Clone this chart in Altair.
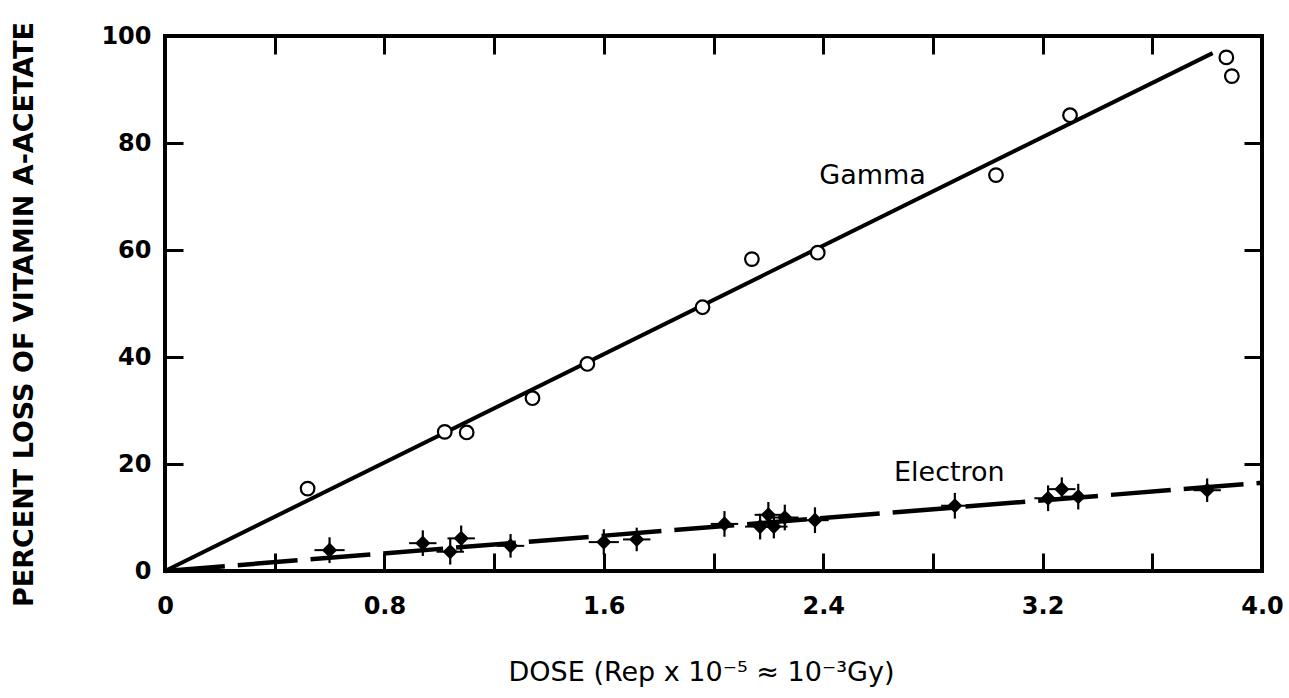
import altair as alt
import pandas as pd

# ---- data ----
gamma_x = [0.52, 1.02, 1.10, 1.34, 1.54, 1.96, 2.14, 2.38, 3.03, 3.30, 3.87, 3.89]
gamma_y = [15.4, 26.0, 25.9, 32.3, 38.7, 49.3, 58.3, 59.5, 74.0, 85.2, 96.0, 92.5]

electron_x = [0.60, 0.94, 1.04, 1.08, 1.26, 1.60, 1.72, 2.04, 2.17, 2.20, 2.22, 2.26,
              2.37, 2.88, 3.22, 3.27, 3.33, 3.80]
electron_y = [3.9, 5.2, 3.6, 6.1, 4.7, 5.4, 5.9, 8.8, 8.3, 10.5, 8.3, 10.0,
              9.5, 12.2, 13.6, 15.3, 13.9, 15.1]
electron_xerr = [0.055, 0.05, 0.05, 0.05, 0.05, 0.055, 0.05, 0.05, 0.055, 0.05, 0.05, 0.05,
                 0.05, 0.05, 0.05, 0.05, 0.055, 0.05]
electron_yerr = [2.4, 2.4, 2.4, 2.4, 2.2, 2.4, 2.2, 2.4, 2.4, 2.4, 2.2, 2.4,
                 2.4, 2.4, 2.4, 2.2, 2.4, 2.2]

gamma_fit_x = [0.0, 3.82]
gamma_fit_y = [0.0, 96.8]
electron_fit_x = [0.0, 4.0]
electron_fit_y = [0.0, 16.5]

label_text = ["Gamma", "Electron"]
label_x = [2.58, 2.86]
label_y = [73.8, 18.3]

x_domain = [0, 4.0]
y_domain = [0, 100]
x_tick_values = [0, 0.4, 0.8, 1.2, 1.6, 2.0, 2.4, 2.8, 3.2, 3.6, 4.0]
x_inner_ticks = [0.4, 0.8, 1.2, 1.6, 2.0, 2.4, 2.8, 3.2, 3.6]
y_tick_values = [0, 20, 40, 60, 80, 100]
y_inner_ticks = [20, 40, 60, 80]

x_title = "DOSE (Rep x 10\u207b\u2075 \u2248 10\u207b\u00b3Gy)"
y_title = "PERCENT LOSS OF VITAMIN A-ACETATE"

# ---- tables ----
gamma_df = pd.DataFrame({"x": gamma_x, "y": gamma_y})
electron_df = pd.DataFrame({"x": electron_x, "y": electron_y,
                            "xerr": electron_xerr, "yerr": electron_yerr})
electron_df["xlo"] = electron_df["x"] - electron_df["xerr"]
electron_df["xhi"] = electron_df["x"] + electron_df["xerr"]
electron_df["ylo"] = electron_df["y"] - electron_df["yerr"]
electron_df["yhi"] = electron_df["y"] + electron_df["yerr"]
gfit_df = pd.DataFrame({"x": gamma_fit_x, "y": gamma_fit_y})
efit_df = pd.DataFrame({"x": electron_fit_x, "y": electron_fit_y})
label_df = pd.DataFrame({"text": label_text, "x": label_x, "y": label_y})

FONT = "DejaVu Sans"
xs = alt.Scale(domain=x_domain, nice=False, zero=False)
ys = alt.Scale(domain=y_domain, nice=False, zero=False)

tick_common = dict(domain=False, grid=False, tickColor="black", tickWidth=3,
                   tickSize=18, offset=-18)

axis_bottom = alt.Axis(
    orient="bottom", values=x_tick_values,
    labelExpr="(round(datum.value*10) % 8 == 0) ? (datum.value == 0 ? '0' : format(datum.value, '.1f')) : ''",
    labelFont=FONT, labelFontSize=24, labelFontWeight="bold", labelColor="black",
    labelPadding=23, labelFlush=False, labelOverlap=False,
    titleFont=FONT, titleFontSize=27, titleFontWeight="normal", titleColor="black",
    titleX=536, titleY=127, titleBaseline="alphabetic",
    **tick_common)
axis_left = alt.Axis(
    orient="left", values=y_tick_values,
    labelFont=FONT, labelFontSize=24, labelFontWeight="bold", labelColor="black",
    labelPadding=14, labelFlush=False, labelOverlap=False,
    titleFont=FONT, titleFontSize=27, titleFontWeight="bold", titleColor="black",
    titleX=-151, titleY=278, titleAngle=270, titleBaseline="alphabetic",
    **tick_common)
axis_top = alt.Axis(orient="top", values=x_inner_ticks, labels=False, **tick_common)
axis_right = alt.Axis(orient="right", values=y_inner_ticks, labels=False, **tick_common)

gamma_line = alt.Chart(gfit_df).mark_line(color="black", strokeWidth=4).encode(
    x=alt.X("x:Q", scale=xs, axis=axis_bottom, title=x_title),
    y=alt.Y("y:Q", scale=ys, axis=axis_left, title=y_title),
)
electron_line = alt.Chart(efit_df).mark_line(
    color="black", strokeWidth=4.5, strokeDash=[60, 13]).encode(
    x=alt.X("x:Q", scale=xs, axis=axis_top, title=None),
    y=alt.Y("y:Q", scale=ys, axis=axis_right, title=None),
)
xerr_rules = alt.Chart(electron_df).mark_rule(color="black", strokeWidth=2).encode(
    x=alt.X("xlo:Q", scale=xs, axis=None), x2="xhi:Q",
    y=alt.Y("y:Q", scale=ys, axis=None),
)
yerr_rules = alt.Chart(electron_df).mark_rule(color="black", strokeWidth=2.2).encode(
    x=alt.X("x:Q", scale=xs, axis=None),
    y=alt.Y("ylo:Q", scale=ys, axis=None), y2="yhi:Q",
)
diamonds = alt.Chart(electron_df).mark_point(
    shape="diamond", filled=True, color="black", size=230, opacity=1).encode(
    x=alt.X("x:Q", scale=xs, axis=None),
    y=alt.Y("y:Q", scale=ys, axis=None),
)
circles = alt.Chart(gamma_df).mark_point(
    shape="circle", filled=False, fill="white", fillOpacity=1, stroke="black",
    strokeWidth=2.2, size=185, opacity=1).encode(
    x=alt.X("x:Q", scale=xs, axis=None),
    y=alt.Y("y:Q", scale=ys, axis=None),
)
labels = alt.Chart(label_df).mark_text(
    font=FONT, fontSize=27, color="black", align="center", baseline="middle").encode(
    x=alt.X("x:Q", scale=xs, axis=None),
    y=alt.Y("y:Q", scale=ys, axis=None),
    text="text:N",
)

chart = alt.layer(
    gamma_line, electron_line, xerr_rules, yerr_rules, diamonds, circles, labels
).resolve_scale(x="independent", y="independent").properties(
    width=1097, height=535,
    padding={"left": 165, "top": 36, "right": 27, "bottom": 127},
    autosize="none",
    background="white",
).configure_view(stroke="black", strokeWidth=4)

chart.save("out.html", embed_options={"renderer": "svg", "actions": False})
